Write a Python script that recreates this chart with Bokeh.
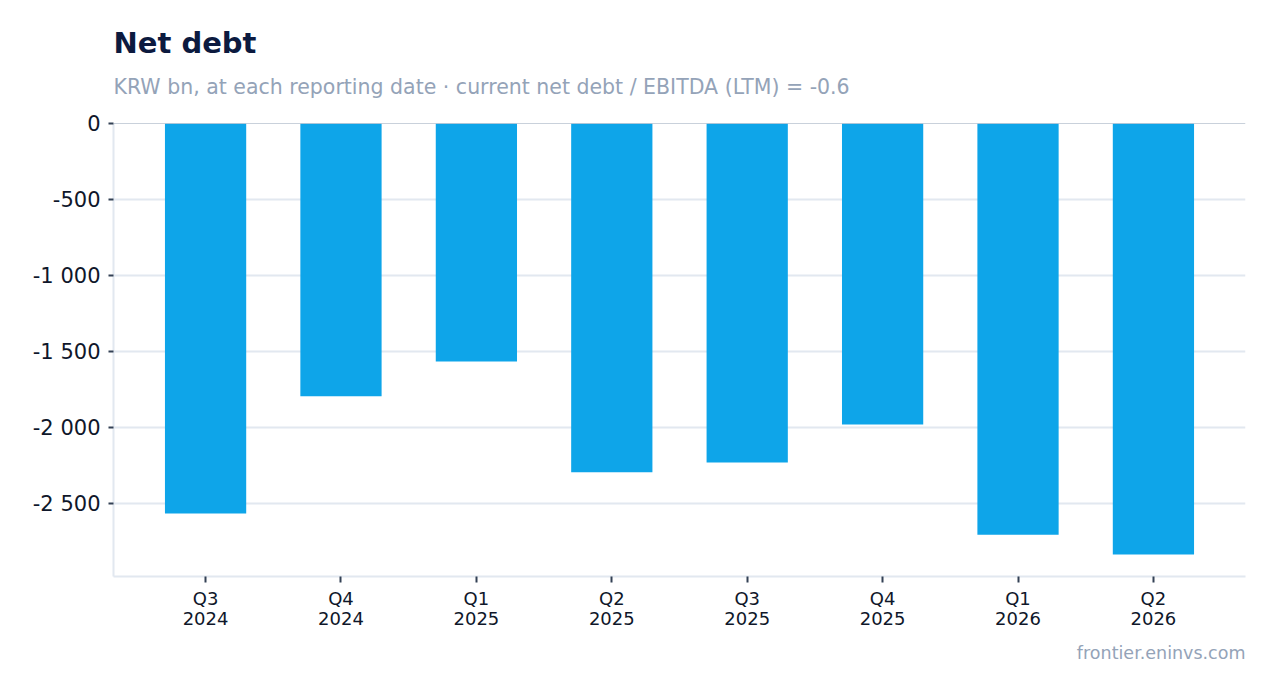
from bokeh.plotting import figure
from bokeh.models import (Title, FixedTicker, Span, ColumnDataSource, CategoricalAxis,
                          CustomJSTickFormatter)
from bokeh.embed import file_html
from bokeh.resources import INLINE

quarters = ["Q3 2024", "Q4 2024", "Q1 2025", "Q2 2025", "Q3 2025", "Q4 2025", "Q1 2026", "Q2 2026"]
net_debt = [-2565, -1795, -1565, -2295, -2230, -1980, -2705, -2835]
y_ticks = [0, -500, -1000, -1500, -2000, -2500]
y_tick_labels = ["0", "-500", "-1 000", "-1 500", "-2 000", "-2 500"]
title_text = "Net debt"
subtitle_text = "KRW bn, at each reporting date · current net debt / EBITDA (LTM) = -0.6"
footer_text = "frontier.eninvs.com"

FONT = "DejaVu Sans"
W, H = 1270, 688
TOP, BOTTOM = 123, 576

p = figure(x_range=quarters, y_range=(-2980, 0), width=W, height=H,
           output_backend="svg", toolbar_location=None, title=None,
           min_border_left=113, min_border_right=W - 1245, min_border_top=TOP,
           min_border_bottom=H - BOTTOM)
p.outline_line_color = None
p.background_fill_color = "white"
p.border_fill_color = "white"

src = ColumnDataSource(dict(q=quarters, v=net_debt))
p.vbar(x="q", top=0, bottom="v", width=0.6, source=src, color="#0ea5e9", line_color=None)

p.add_layout(Span(location=0, dimension="width", line_color="#94a3b8", line_width=1))

# subtitle (nearest the plot), then title
sub = Title(text=subtitle_text, text_font=FONT, text_font_size="20.5px",
            text_font_style="normal", text_color="#94a3b8", offset=0, standoff=49)
p.add_layout(sub, "above")
ttl = Title(text=title_text, text_font=FONT, text_font_size="29px", text_font_style="bold",
            text_color="#0c1a3f", offset=0, standoff=-23)
p.add_layout(ttl, "above")

# axes
ya = p.yaxis[0]
ya.ticker = FixedTicker(ticks=y_ticks)
ya.major_label_overrides = {t: l for t, l in zip(y_ticks, y_tick_labels)}
ya.major_label_text_font = FONT
ya.major_label_text_font_size = "21px"
ya.major_label_text_color = "#0f172a"
ya.axis_line_color = "#e2e8f0"
ya.axis_line_width = 2
ya.major_tick_line_color = "#334155"
ya.major_tick_line_width = 2
ya.major_tick_out = 5
ya.major_tick_in = 0
ya.minor_tick_line_color = None
ya.major_label_standoff = 8

xa = p.xaxis[0]
xa.formatter = CustomJSTickFormatter(code="return String(tick).split(' ')[0];")
xa.major_label_text_font = FONT
xa.major_label_text_font_size = "18px"
xa.major_label_text_color = "#0f172a"
xa.axis_line_color = "#e2e8f0"
xa.axis_line_width = 2
xa.major_tick_line_color = "#334155"
xa.major_tick_line_width = 2
xa.major_tick_out = 6
xa.major_tick_in = 0
xa.minor_tick_line_color = None
xa.major_label_standoff = 5

xa2 = CategoricalAxis(formatter=CustomJSTickFormatter(code="return String(tick).split(' ')[1];"),
                      major_label_text_font=FONT, major_label_text_font_size="18px",
                      major_label_text_color="#0f172a", axis_line_color=None,
                      major_tick_line_color=None, minor_tick_line_color=None,
                      major_tick_out=0, major_tick_in=0, major_label_standoff=0)
p.add_layout(xa2, "below")

foot = Title(text=footer_text, text_font=FONT, text_font_size="17.5px",
             text_font_style="normal", text_color="#94a3b8", align="right", standoff=26)
p.add_layout(foot, "below")

p.xgrid.grid_line_color = None
p.ygrid.grid_line_color = "#e2e8f0"
p.ygrid.grid_line_width = 2
p.ygrid.ticker = FixedTicker(ticks=y_ticks)

p.x_range.range_padding = 0.18
p.x_range.range_padding_units = "absolute"

open("out.html", "w").write(file_html(p, INLINE))
